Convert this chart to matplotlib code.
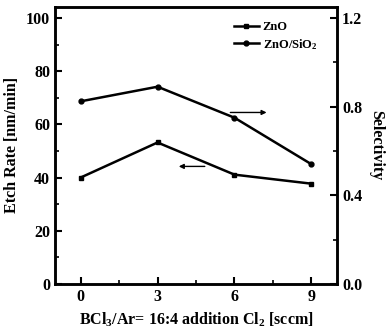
import matplotlib

matplotlib.use("Agg")
import matplotlib.pyplot as plt
from matplotlib.ticker import MultipleLocator

plt.rcParams["font.family"] = "Liberation Serif"
plt.rcParams["font.weight"] = "bold"
plt.rcParams["mathtext.fontset"] = "custom"
plt.rcParams["mathtext.rm"] = "Liberation Serif:bold"
plt.rcParams["mathtext.it"] = "Liberation Serif:bold"

cl2_flow = [0, 3, 6, 9]
zno_rate = [40, 53.2, 41.1, 37.7]
selectivity = [0.824, 0.89, 0.75, 0.54]

fig = plt.figure(figsize=(3.87, 3.32), dpi=100)
ax = fig.add_axes([0.142, 0.145, 0.729, 0.834])
ax2 = ax.twinx()

ax.plot(cl2_flow, zno_rate, color="black", lw=1.8, marker="s", ms=3.5, label="ZnO")
ax2.plot(cl2_flow, selectivity, color="black", lw=1.8, marker="o", ms=3.5, label="ZnO/SiO$_2$")

ax.set_xlim(-1, 10)
ax.set_ylim(0, 104.2)
ax2.set_ylim(0, 1.25)
ax.set_xticks(cl2_flow)
ax.xaxis.set_minor_locator(MultipleLocator(1.5))
ax.yaxis.set_major_locator(MultipleLocator(20))
ax.yaxis.set_minor_locator(MultipleLocator(10))
ax2.set_yticks([0.0, 0.4, 0.8, 1.2])
ax2.yaxis.set_minor_locator(MultipleLocator(0.2))
ax2.yaxis.set_major_formatter(plt.FormatStrFormatter("%.1f"))

for a in (ax, ax2):
    a.tick_params(which="major", direction="in", length=5, width=1.5, labelsize=11.5)
    a.tick_params(which="minor", direction="in", length=3, width=1.2)
    for s in a.spines.values():
        s.set_linewidth(1.8)

ax.set_xlabel("BCl$_3$/Ar= 16:4 addition Cl$_2$ [sccm]", fontsize=11.5, fontweight="bold")
ax.set_ylabel("Etch Rate [nm/min]", fontsize=11.5, fontweight="bold")
ax2.set_ylabel("Selectivity", fontsize=11.5, fontweight="bold", rotation=270, labelpad=16)

# arrows pointing to the matching axis
ax.annotate("", xy=(3.72, 44.2), xytext=(4.95, 44.2),
            arrowprops=dict(arrowstyle="-|>", color="black", lw=1, mutation_scale=7))
ax.annotate("", xy=(7.36, 64.5), xytext=(5.73, 64.5),
            arrowprops=dict(arrowstyle="-|>", color="black", lw=1, mutation_scale=7))

h1, l1 = ax.get_legend_handles_labels()
h2, l2 = ax2.get_legend_handles_labels()
ax.legend(h1 + h2, l1 + l2, loc="upper right", frameon=False, fontsize=9,
          handlelength=2.0, handletextpad=0.3, labelspacing=0.3,
          bbox_to_anchor=(0.97, 0.99))

fig.savefig("out.png", dpi=100)
